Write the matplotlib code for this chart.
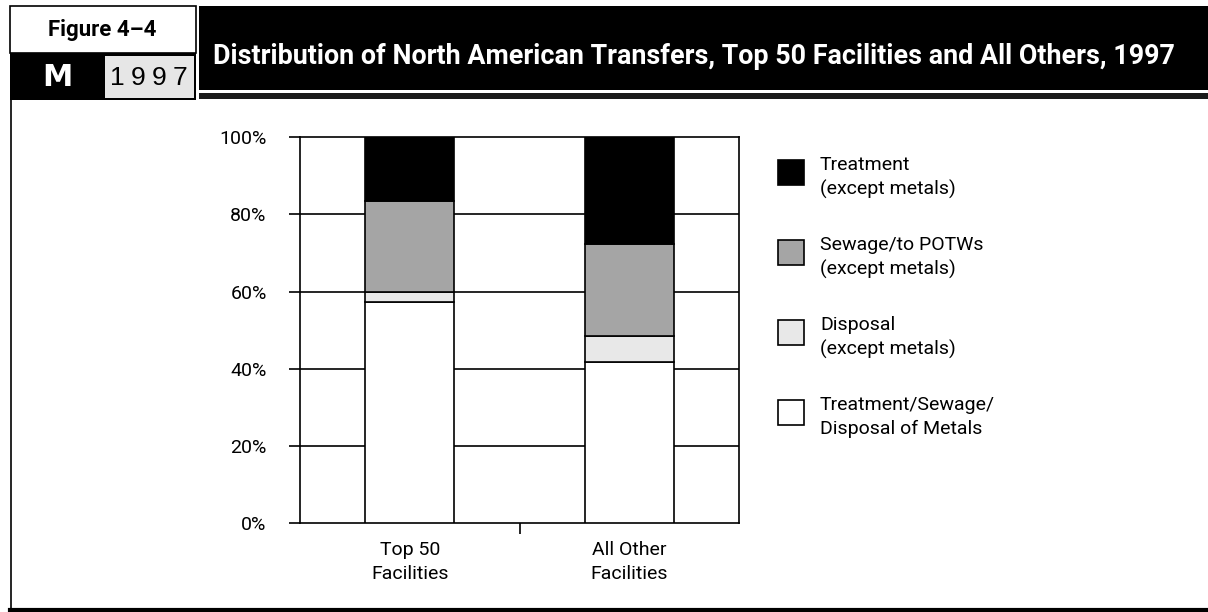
import matplotlib
matplotlib.use("Agg")
import matplotlib.pyplot as plt
from matplotlib.patches import Rectangle
from matplotlib.lines import Line2D
import numpy as np

# data (percent of transfers)
categories = ["Top 50\nFacilities", "All Other\nFacilities"]
series_names = ["Treatment/Sewage/\nDisposal of Metals", "Disposal\n(except metals)",
                "Sewage/to POTWs\n(except metals)", "Treatment\n(except metals)"]
metals = [57.2, 41.7]
disposal = [2.6, 6.9]
sewage = [23.7, 23.7]
treatment = [16.5, 27.7]
y_ticks = [0, 20, 40, 60, 80, 100]
y_tick_labels = ["0%", "20%", "40%", "60%", "80%", "100%"]

series_colors = ["#ffffff", "#e8e8e8", "#a5a5a5", "#000000"]

W, H = 1208, 612
BODY = ["Roboto", "DejaVu Sans"]

fig = plt.figure(figsize=(W / 100, H / 100), dpi=100)
fig.patch.set_facecolor("white")


def px_rect(x0, y0, x1, y1, **kw):
    # rectangle given in pixel coords (top-left origin)
    r = Rectangle((x0 / W, 1 - y1 / H), (x1 - x0) / W, (y1 - y0) / H,
                  transform=fig.transFigure, figure=fig, **kw)
    fig.patches.append(r)


def px_line(xs, ys, **kw):
    fig.lines.append(Line2D([x / W for x in xs], [1 - y / H for y in ys],
                            transform=fig.transFigure, figure=fig, **kw))


def px_text(x, y, s, **kw):
    fig.text(x / W, 1 - y / H, s, **kw)


# header block
px_rect(10, 6, 196, 53, facecolor="white", edgecolor="black", lw=1.2)
px_rect(10, 53, 196, 100, facecolor="black", edgecolor="black", lw=0)
px_rect(105, 56, 194, 98, facecolor="#e6e6e6", edgecolor="none")
px_rect(199, 6, 1208, 90, facecolor="black", edgecolor="none")
px_rect(199, 93, 1208, 99, facecolor="#1a1a1a", edgecolor="none")

px_text(102, 30, "Figure 4–4", family=BODY, fontweight="bold", fontsize=16,
        ha="center", va="center")
px_text(57, 78, "M", family=["DejaVu Sans"], fontweight="bold",
        fontsize=22, color="white", ha="center", va="center")
for ch, cx in zip("1997", [117, 138, 159, 180]):
    px_text(cx, 78, ch, family=["Liberation Sans", "DejaVu Sans"], fontsize=19,
            color="black", ha="center", va="center")
px_text(694, 56, "Distribution of North American Transfers, Top 50 Facilities and All Others, 1997",
        family=BODY, fontweight="bold", fontsize=19.4, color="white",
        ha="center", va="center")

# body frame
px_line([10.5, 10.5], [99, 610], color="black", lw=1.2)
px_line([10, 1208], [609.5, 609.5], color="black", lw=3)

# chart
ax = fig.add_axes([300 / W, (H - 523) / H, 439 / W, (523 - 137.3) / H])
x = np.array([0.5, 1.5])
width = 0.405
stack = [metals, disposal, sewage, treatment]
bottom = np.zeros(len(x))
for vals, col in zip(stack, series_colors):
    ax.bar(x, vals, width=width, bottom=bottom, color=col, edgecolor="black",
           linewidth=1.2, zorder=3)
    bottom += np.array(vals)

ax.set_xlim(0, 2)
ax.set_ylim(0, 100)
for yv in y_ticks[1:-1]:
    ax.axhline(yv, color="black", lw=1.2, zorder=1)
ax.set_yticks(y_ticks)
ax.set_yticklabels(y_tick_labels, family=BODY, fontsize=14)
ax.tick_params(axis="y", direction="out", length=8, width=1.2, pad=16)
ax.set_xticks([1])
ax.set_xticklabels([""])
ax.tick_params(axis="x", direction="out", length=8, width=1.2)
ax.set_xticks(x, minor=True)
ax.set_xticklabels(categories, minor=True, family=BODY, fontsize=14,
                   linespacing=1.4)
ax.tick_params(axis="x", which="minor", length=0, pad=13)
for sp in ax.spines.values():
    sp.set_linewidth(1.2)
    sp.set_color("black")

# legend, drawn by hand to keep the spacing of the original
leg_order = [3, 2, 1, 0]
for i, k in enumerate(leg_order):
    top = 160 + 80 * i
    px_rect(778, top, 804, top + 25, facecolor=series_colors[k], edgecolor="black", lw=1.2)
    px_text(820, top - 4, series_names[k], family=BODY, fontsize=14,
            ha="left", va="top", linespacing=1.4)

fig.savefig("out.png", dpi=100)
